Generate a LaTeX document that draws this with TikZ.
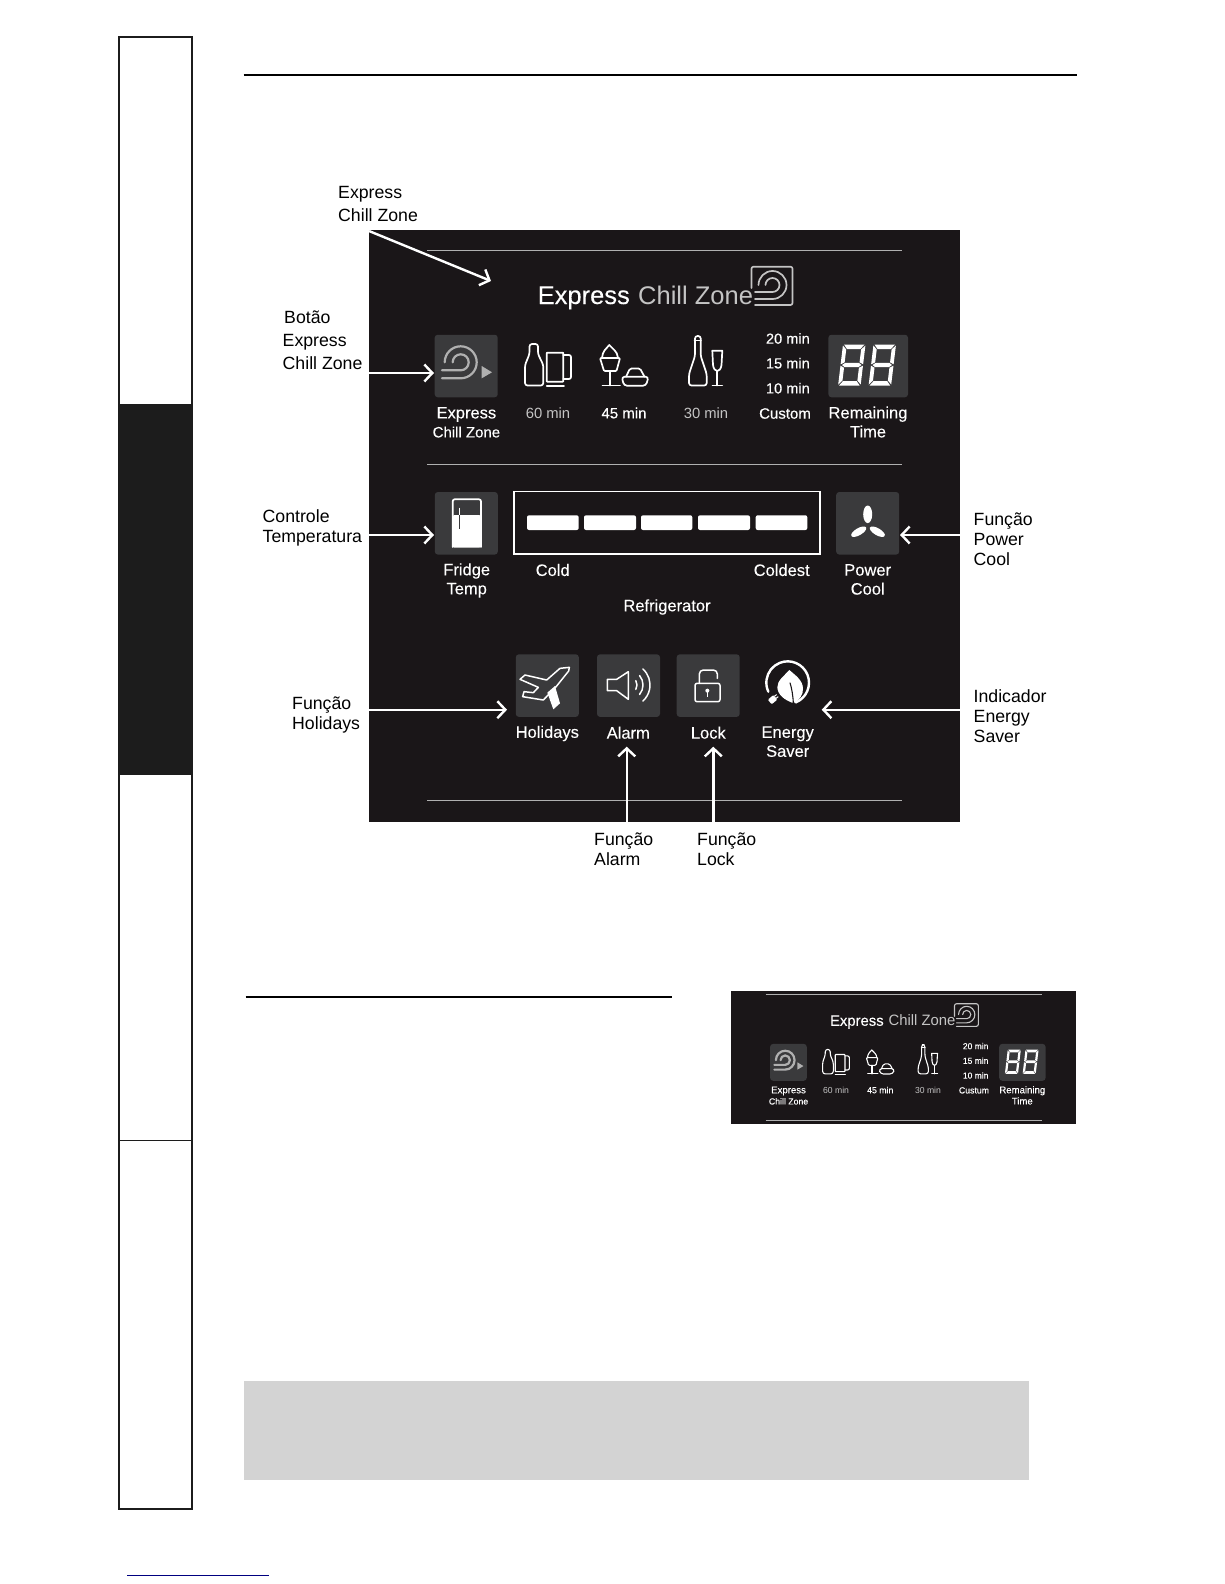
\documentclass[tikz,border=0pt]{standalone}
\usepackage{fontspec}
\setmainfont{Liberation Sans}
\newfontfamily\semib[FakeBold=0.35]{Liberation Sans}
\newfontfamily\medb[FakeBold=0.15]{Liberation Sans}
\usetikzlibrary{arrows.meta}
\definecolor{panelc}{HTML}{1A1618}
\definecolor{btnc}{HTML}{3A3A3C}
\definecolor{sidec}{HTML}{1C1C1C}
\definecolor{greyt}{HTML}{C4C4C4}
\definecolor{ruleg}{HTML}{B0B0B0}
\definecolor{grayb}{HTML}{D3D3D3}
\definecolor{linkb}{HTML}{000080}
\def\ilw{1.7}
\tikzset{
  x=1pt,y=-1pt,
  btn/.style={fill=btnc,rounded corners=3pt,minimum width=63pt,minimum height=62.5pt,inner sep=0pt},
  pl/.style={text=white,inner sep=0pt,align=center,font=\medb\fontsize{16.5}{19}\selectfont},
  pg/.style={pl,text=greyt,font=\fontsize{14.8}{18.5}\selectfont},
  pb/.style={pl,font=\semib\fontsize{15}{18.5}\selectfont},
  lab/.style={text=black,inner sep=0pt,anchor=west,align=left,font=\fontsize{17.7}{20}\selectfont},
  labw/.style={lab,font=\fontsize{17.7}{23}\selectfont},
  arr/.style={draw=white,line width=2.4pt,-{Straight Barb[length=8pt,width=17pt,line width=2.4pt]}},
  ic/.style={draw=white,line width=\ilw pt,line join=round,line cap=round},
  hair/.style={draw=ruleg,line width=1pt},
  sg/.style={fill=white,draw=none}
}
\newcommand{\sevenseg}[2]{%
  \begin{scope}[shift={(#1,#2)},xslant=.12]
    \fill[sg] (1,0)--(21.5,0)--(18,4.5)--(4.5,4.5)--cycle;
    \fill[sg] (1.5,20.5)--(4.5,18.3)--(18,18.3)--(21,20.5)--(18,22.7)--(4.5,22.7)--cycle;
    \fill[sg] (1,41)--(21.5,41)--(18,36.5)--(4.5,36.5)--cycle;
    \fill[sg] (0,1)--(3.8,5)--(3.8,17.8)--(0,19.8)--cycle;
    \fill[sg] (22.5,1)--(18.7,5)--(18.7,17.8)--(22.5,19.8)--cycle;
    \fill[sg] (0,21.2)--(3.8,23.2)--(3.8,36)--(0,40)--cycle;
    \fill[sg] (22.5,21.2)--(18.7,23.2)--(18.7,36)--(22.5,40)--cycle;
  \end{scope}}
\newcommand{\chillrow}[1]{%
  \draw[hair] (427,250.5)--(901.5,250.5);
  % title
  \node[inner sep=0pt,anchor=base west,text=white,font=\medb\fontsize{25.5}{28}\selectfont] (title1) at (537.5,304) {Express};
  \node[inner sep=0pt,anchor=base west,text=greyt,font=\fontsize{25.5}{28}\selectfont] (title2) at (638,304) {Chill Zone};
  % logo
  \draw[ic,draw=greyt,rounded corners=2pt] (751.5,288)--(751.5,266.7)--(792.5,266.7)--(792.5,305)--(755,305);
  \draw[ic,draw=greyt] (755,299)--(772.5,299) arc[start angle=90,end angle=-180,radius=14];
  \draw[ic,draw=greyt] (755,292)--(772.5,292) arc[start angle=90,end angle=-180,radius=7];
  % express button
  \node[btn] (bexp) at (466.2,366) {};
  \draw[ic,draw=ruleg,line width=2.2pt] (442,378.3)--(460.7,378.3) arc[start angle=90,end angle=-180,radius=16];
  \draw[ic,draw=ruleg,line width=2.2pt] (442,370.3)--(460.7,370.3) arc[start angle=90,end angle=-180,radius=8];
  \fill[ruleg] (481.7,366)--(481.7,378.3)--(492,372.3)--cycle;
  \node[pl] (lexp) at (466.4,422.3) {Express\\{\fontsize{15}{19}\selectfont Chill Zone}};
  % beer bottle + mug
  \draw[ic,rounded corners=2.5pt] (529.5,344)--(538,344)--(538,354)--(543.3,365)--(543.3,385.5)--(525,385.5)--(525,365)--(529.5,354)--cycle;
  \draw[ic,rounded corners=.5pt] (546.7,352.7)--(563.3,352.7)--(563.3,381.7)--(546.7,381.7)--cycle;
  \draw[ic] (546.7,386)--(564,386);
  \draw[ic,rounded corners=2pt] (563.3,355)--(571,355)--(571,379)--(563.3,379);
  \node[pg] (l60) at (548,413) {60 min};
  % glass + dish
  \draw[ic,rounded corners=1pt] (600,358)--(620,358)--(616.5,371)--(604,371)--cycle;
  \draw[ic] (602,358) .. controls (602.5,351) and (606,349) .. (609.3,345) .. controls (612.5,349) and (617.5,351) .. (618,358);
  \draw[ic] (609.8,371)--(609.8,385.5);
  \draw[ic] (602.5,385.5)--(620,385.5);
  \draw[ic,rounded corners=1.5pt] (626,376.7)--(630,368.5)--(640,368.5)--(644.5,376.7);
  \draw[ic,rounded corners=3pt] (621.7,376.7)--(648.5,376.7)--(646,385.7)--(624,385.7)--cycle;
  \node[pb] (l45) at (624,413) {45 min};
  % wine bottle + flute
  \draw[ic,rounded corners=2.5pt] (695,336)--(700.7,336)--(700.7,356)--(706.7,374)--(706.7,385.5)--(689,385.5)--(689,374)--(695,356)--cycle;
  \draw[ic] (694.5,340.5)--(701,340.5);
  \draw[ic] (712.3,350.7)--(722.3,350.7)--(721.5,365) .. controls (721,369) and (719,371) .. (717.3,371) .. controls (715.5,371) and (713.5,369) .. (713,365) -- cycle;
  \draw[ic] (717.3,371)--(717.3,385.5);
  \draw[ic] (712.5,385.5)--(722.3,385.5);
  \node[pg] (l30) at (706,413) {30 min};
  % times
  \node[pb,anchor=east,font=\semib\fontsize{14.6}{18}\selectfont] (t20) at (810,338.5) {20 min};
  \node[pb,anchor=east,font=\semib\fontsize{14.6}{18}\selectfont] (t15) at (810,363.2) {15 min};
  \node[pb,anchor=east,font=\semib\fontsize{14.6}{18}\selectfont] (t10) at (810,388.2) {10 min};
  \node[pb] (lcust) at (785,413.5) {#1};
  % remaining
  \node[btn,minimum width=79.6pt] (brem) at (868.2,366) {};
  \sevenseg{843}{344.5}
  \sevenseg{873.5}{344.5}
  \node[pl] (lrem) at (868,422) {Remaining\\Time};
}
\begin{document}
\begin{tikzpicture}
\useasboundingbox (0,0) rectangle (1224,1584);
% side tab
\fill[sidec] (119,404) rectangle (191.7,775);
\draw[sidec,line width=2pt] (119,37.5) rectangle (191.7,1509);
\draw[sidec,line width=1.6pt] (119,1140.5)--(191.7,1140.5);
% rules
\draw[black,line width=1.8pt] (243.5,74.7)--(1077,74.7);
\draw[black,line width=1.6pt] (245.5,997)--(672,997);
% grey box, link
\fill[grayb] (244,1381) rectangle (1029,1480);
\draw[linkb,line width=1pt] (127,1575)--(269,1575);

% main panel
\node[fill=panelc,minimum width=591pt,minimum height=592pt,inner sep=0pt] (panel) at (664.5,526) {};
\chillrow{Custom}
\draw[hair] (427,464.5)--(901.5,464.5);
\draw[hair] (427,800)--(901.5,800);

% fridge
\node[btn] (bfri) at (466.3,523.3) {};
\fill[white,rounded corners=2pt] (452.7,515)--(481,515)--(481,547.7)--(452.7,547.7)--cycle;
\draw[ic,rounded corners=2pt] (452.7,547)--(452.7,499.3)--(481,499.3)--(481,547);
\draw[white,line width=1.2pt] (459.3,507.7)--(459.3,515);
\draw[btnc,line width=1.2pt] (459.3,515)--(459.3,529.3);
\node[pl] (lfri) at (466.7,580.5) {Fridge\\Temp};
% bar
\node[draw=white,line width=1.4pt,minimum width=306pt,minimum height=62.7pt,inner sep=0pt] (bar) at (667,522.6) {};
\fill[white,rounded corners=2pt] (527,515.3) rectangle (578.7,530);
\fill[white,rounded corners=2pt] (584,515.3) rectangle (636,530);
\fill[white,rounded corners=2pt] (641,515.3) rectangle (692.3,530);
\fill[white,rounded corners=2pt] (698,515.3) rectangle (750,530);
\fill[white,rounded corners=2pt] (755.7,515.3) rectangle (807.3,530);
\node[pl] (lcold) at (552.7,570) {Cold};
\node[pl] (lcoldest) at (781.7,570) {Coldest};
\node[pl] (lref) at (667,607) {Refrigerator};
% power cool
\node[btn] (bpow) at (867.7,523.3) {};
\fill[white] (867.7,514.3) ellipse [x radius=4.5,y radius=8.8];
\fill[white,rotate around={30:(858.7,531.7)}] (858.7,531.7) ellipse [x radius=8.5,y radius=3.5];
\fill[white,rotate around={-30:(877.3,531.7)}] (877.3,531.7) ellipse [x radius=8.5,y radius=3.5];
\node[pl] (lpow) at (867.7,579.5) {Power\\Cool};
% lower buttons
\node[btn] (bhol) at (547.3,685.6) {};
\node[btn] (bala) at (628.5,685.6) {};
\node[btn] (blck) at (708.2,685.6) {};
\begin{scope}[shift={(510,650)},scale=1/3]
  \def\ilw{1.5}
  % plane
  \draw[ic] (178,52)--(150,55)--(110,90)--(45,75)--(30,88)--(85,112)--(70,128)--(42,125)--(38,140)--(100,150)--(140,108)--(176,63)--cycle;
  \fill[white] (112,128)--(135,108)--(150,160)--(130,178)--cycle;
  % speaker
  \draw[ic] (292,88)--(320,88)--(355,65)--(355,148)--(320,122)--(292,122)--cycle;
  \draw[ic] (355,105) ++(-30:26) arc[start angle=-30,end angle=30,radius=26];
  \draw[ic] (355,105) ++(-40:44) arc[start angle=-40,end angle=40,radius=44];
  \draw[ic] (355,105) ++(-48:65) arc[start angle=-48,end angle=48,radius=65];
  % lock
  \draw[ic,rounded corners=2pt] (555,100)--(630,100)--(630,155)--(555,155)--cycle;
  \draw[ic,rounded corners=4pt] (568,100)--(568,60)--(622,60)--(622,85);
  \fill[white] (592,122) circle [radius=6];
  \fill[white] (590,122) rectangle (595,140);
  % energy
  \draw[ic,line width=2.4pt] (833,98) ++(68:64) arc[start angle=68,end angle=-205,radius=64];
  \fill[white] (838,60) .. controls (855,75) and (878,90) .. (879,115) .. controls (880,135) and (868,150) .. (853,158) -- (846,158) .. controls (825,150) and (803,135) .. (802,112) .. controls (801,92) and (825,75) .. (838,60) -- cycle;
  \draw[panelc,line width=1.1pt] (840,98) .. controls (845,115) and (849,135) .. (850,160);
  \fill[white,rotate around={40:(790,147)},rounded corners=1pt] (776,138) rectangle (798,156);
  \draw[white,line width=1pt,rotate around={40:(790,147)}] (798,143)--(806,143) (798,151)--(806,151);
\end{scope}
\node[pl] (lhol) at (547.3,733.5) {Holidays};
\node[pl] (lala) at (628.3,732.7) {Alarm};
\node[pl] (llck) at (708.3,732.7) {Lock};
\node[pl] (lene) at (787.7,741.7) {Energy\\Saver};

% connector ends
\coordinate (a1s) at (369,231);
\coordinate (a1e) at (491,281);
\coordinate (a2s) at (369,373);
\coordinate (a2e) at (434,373);
\coordinate (a3s) at (369,535);
\coordinate (a3e) at (434,535);
\coordinate (a4s) at (960,535);
\coordinate (a4e) at (900,535);
\coordinate (a5s) at (369,709.7);
\coordinate (a5e) at (507,709.7);
\coordinate (a6s) at (960,709.7);
\coordinate (a6e) at (821.7,709.7);
\coordinate (a7s) at (626.7,822);
\coordinate (a7e) at (626.7,746.7);
\coordinate (a8s) at (713.3,822);
\coordinate (a8e) at (713.3,746.7);
\foreach \i in {1,...,8} {\draw[arr] (a\i s)--(a\i e);}

% outside labels
\node[labw] (o1) at (338,204) {Express\\Chill Zone};
\node[labw] (o2) at (282.5,340.5) {\hspace*{1.5pt}Botão\\Express\\Chill Zone};
\node[lab] (o3) at (262.5,527.5) {Controle\\Temperatura};
\node[lab] (o4) at (973.5,539.5) {Função\\Power\\Cool};
\node[lab] (o5) at (292,715) {Função\\Holidays};
\node[lab] (o6) at (973.5,716.5) {Indicador\\Energy\\Saver};
\node[lab] (o7) at (594,849) {Função\\Alarm};
\node[lab] (o8) at (697,849) {Função\\Lock};

% small panel
\node[fill=panelc,minimum width=345pt,minimum height=133pt,inner sep=0pt] (spanel) at (903.5,1057.5) {};
\def\ilw{1.1}
\begin{scope}[shift={(517.1,846.4)},xscale=.582,yscale=.59,transform shape,name prefix=s-]
  \chillrow{Custum}
  \draw[hair] (427,464.5)--(901.5,464.5);
\end{scope}
\end{tikzpicture}
\end{document}
